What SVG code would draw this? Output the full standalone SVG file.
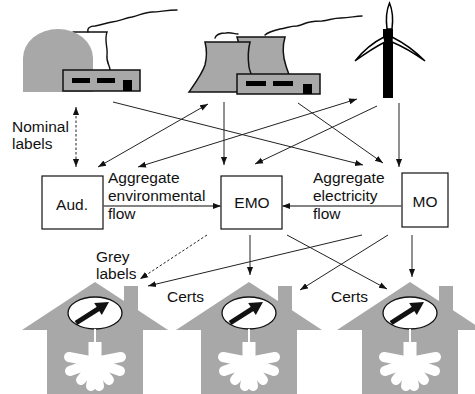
<svg xmlns="http://www.w3.org/2000/svg" xmlns:xlink="http://www.w3.org/1999/xlink" width="475" height="394" viewBox="0 0 475 394">
  <style>
    .lbl { font-family: "Liberation Sans", Arial, Helvetica, sans-serif; font-size: 15.5px; fill: #111; }
    .mid { text-anchor: middle; }
    .box { fill: #fff; stroke: #111; stroke-width: 1.2; }
    .con { fill: none; stroke: #222; stroke-width: 1; }
    .dash { stroke-dasharray: 2.5 2; }
    .flow { fill: none; stroke: #5a5a5a; stroke-width: 1.6; }
    .grey { fill: #a8a8a8; }
    .bld { fill: #a8a8a8; stroke: #111; stroke-width: 1.5; }
    .smoke { fill: none; stroke: #111; stroke-width: 1.4; stroke-linecap: round; }
  </style>
  <defs>
    <marker id="arr" viewBox="0 0 10 10" refX="10" refY="5" markerWidth="8" markerHeight="8" markerUnits="userSpaceOnUse" orient="auto-start-reverse">
      <path d="M0,1.2 L10,5 L0,8.8 Z" fill="#111"/>
    </marker>
    <!-- house outline with chimney, apex at origin -->
    <g id="house">
      <path class="grey" d="M0,0 L29,19.1 L29,4 L43,4 L43,28.3 L73,48 L48,48 L48,114 L-48,114 L-48,48 L-73,48 Z"/>
      <!-- meter dial -->
      <ellipse cx="0" cy="31" rx="27" ry="16" fill="#fff" stroke="#111" stroke-width="1.3"/>
      <line x1="-19" y1="41" x2="4" y2="26.4" stroke="#111" stroke-width="5"/>
      <polygon points="14,20 6.8,32.9 -0.8,21.1" fill="#111"/>
      <!-- lamp -->
      <line x1="0" y1="47" x2="0" y2="61" stroke="#fff" stroke-width="2"/>
      <rect x="-6.5" y="60" width="13" height="16" fill="#fff"/>
      <g stroke="#fff" stroke-width="10" stroke-linecap="round">
        <line x1="0" y1="80" x2="-26" y2="75"/>
        <line x1="0" y1="80" x2="26" y2="75"/>
        <line x1="0" y1="80" x2="-25" y2="89"/>
        <line x1="0" y1="80" x2="25" y2="89"/>
        <line x1="0" y1="80" x2="-14" y2="98"/>
        <line x1="0" y1="80" x2="14" y2="98"/>
        <line x1="0" y1="80" x2="-4" y2="104"/>
        <line x1="0" y1="80" x2="4" y2="104"/>
      </g>
      <circle cx="0" cy="80" r="7" fill="#fff"/>
    </g>
  </defs>

  <!-- nuclear plant -->
  <g id="nuclear">
    <path class="smoke" d="M73,32 L107,32 C104,40 108,48 107,55 C106,62 110,66 110,70"/>
    <path class="grey" d="M23,92 V58 A35,29 0 0 1 93,58 V92 Z"/>
    <path class="smoke" d="M88,32 C87,28 90,26 95,26 C101,25 106,23 112,22 C120,21 125,18 132,17 C140,15 146,12 152,12 C160,12 166,10 177,10"/>
    <rect class="bld" x="63" y="70" width="77" height="21"/>
    <rect x="72" y="78" width="18" height="5" fill="#000"/>
    <rect x="97" y="78" width="18" height="5" fill="#000"/>
    <rect x="123" y="80" width="9" height="11" fill="#000"/>
  </g>

  <!-- cooling towers -->
  <g id="towers">
    <path class="smoke" d="M215,38 C216,35 220,33 226,33 C231,32 234,34 238,34"/>
    <path class="smoke" d="M265,35 C268,32 272,31 280,29 C287,28 290,26 297,26 C303,25 304,23 310,22 C315,21 318,21 322,21 C330,20 333,18 341,18 C350,18 355,16 362,16"/>
    <path class="bld" d="M237,37 L285,37 C282,47 283,57 286,66 C288,72 290,76 290,80 L245,80 C243,65 241,50 237,37 Z"/>
    <path class="bld" d="M205,42 L250,42 C248,50 248,60 249,67 C250,73 254,80 258,92 L189,92 C196,82 202,74 205,65 C207,57 207,50 205,42 Z"/>
    <rect class="bld" x="237" y="74" width="83" height="20"/>
    <rect x="246" y="81" width="20" height="5" fill="#000"/>
    <rect x="273" y="81" width="20" height="5" fill="#000"/>
    <rect x="303" y="84" width="9" height="10" fill="#000"/>
  </g>

  <!-- wind turbine -->
  <g id="turbine">
    <rect x="383" y="29" width="10" height="69" fill="#000"/>
    <path d="M389.5,3 C392.5,10 393,21 392,29 L387,29 C386,21 386.5,10 389.5,3 Z" fill="#fff" stroke="#000" stroke-width="1.5"/>
    <path d="M384,37 C372,43 363,51 355,61 C366,53 375,47 385,42 Z" fill="#fff" stroke="#000" stroke-width="1.4"/>
    <path d="M392,37 C404,43 415,51 425,61 C414,53 404,47 392,42 Z" fill="#fff" stroke="#000" stroke-width="1.4"/>
  </g>

  <!-- agents -->
  <g id="aud">
    <rect class="box" x="42" y="176" width="61" height="53"/>
    <text class="lbl mid" x="72" y="210">Aud.</text>
  </g>
  <g id="emo">
    <rect class="box" x="221" y="176" width="61" height="53"/>
    <text class="lbl mid" x="252" y="208">EMO</text>
  </g>
  <g id="mo">
    <rect class="box" x="402" y="173" width="46" height="54"/>
    <text class="lbl mid" x="425" y="207">MO</text>
  </g>

  <!-- consumers -->
  <g id="house1"><use xlink:href="#house" href="#house" transform="translate(95,282)"/></g>
  <g id="house2"><use xlink:href="#house" href="#house" transform="translate(249,282)"/></g>
  <g id="house3"><use xlink:href="#house" href="#house" transform="translate(410,282)"/></g>

  <!-- connectors -->
  <g id="connectors">
    <line class="con dash" x1="76" y1="107" x2="76" y2="167" marker-start="url(#arr)" marker-end="url(#arr)"/>
    <line class="con" x1="113" y1="102" x2="363" y2="165" marker-end="url(#arr)"/>
    <line class="con" x1="98" y1="167" x2="208" y2="104" marker-start="url(#arr)" marker-end="url(#arr)"/>
    <line class="con" x1="138" y1="167" x2="357" y2="99" marker-start="url(#arr)" marker-end="url(#arr)"/>
    <line class="con" x1="224" y1="102" x2="224" y2="165" marker-end="url(#arr)"/>
    <line class="con" x1="298" y1="103" x2="383" y2="163" marker-end="url(#arr)"/>
    <line class="con" x1="377" y1="106" x2="255" y2="164" marker-end="url(#arr)"/>
    <line class="con" x1="399" y1="103" x2="399" y2="167" marker-end="url(#arr)"/>
    <line class="flow" x1="103" y1="206" x2="221" y2="206" marker-end="url(#arr)"/>
    <line class="flow" x1="402" y1="206" x2="282" y2="206" marker-end="url(#arr)"/>
    <line class="con dash" x1="207" y1="235" x2="140" y2="279" marker-end="url(#arr)"/>
    <line class="con" x1="362" y1="235" x2="148" y2="286" marker-end="url(#arr)"/>
    <line class="con" x1="250" y1="235" x2="250" y2="275" marker-end="url(#arr)"/>
    <line class="con" x1="287" y1="235" x2="387" y2="289" marker-end="url(#arr)"/>
    <line class="con" x1="388" y1="235" x2="300" y2="290" marker-end="url(#arr)"/>
    <line class="con" x1="412" y1="235" x2="412" y2="277" marker-end="url(#arr)"/>
  </g>

  <!-- labels -->
  <g id="labels">
    <text class="lbl" x="12" y="132">Nominal</text>
    <text class="lbl" x="12" y="149">labels</text>
    <text class="lbl" x="108" y="183">Aggregate</text>
    <text class="lbl" x="108" y="201">environmental</text>
    <text class="lbl" x="108" y="219">flow</text>
    <text class="lbl" x="313" y="183">Aggregate</text>
    <text class="lbl" x="313" y="201">electricity</text>
    <text class="lbl" x="313" y="219">flow</text>
    <text class="lbl" x="96" y="262">Grey</text>
    <text class="lbl" x="96" y="279">labels</text>
    <text class="lbl" x="167" y="302">Certs</text>
    <text class="lbl" x="331" y="302">Certs</text>
  </g>
</svg>
